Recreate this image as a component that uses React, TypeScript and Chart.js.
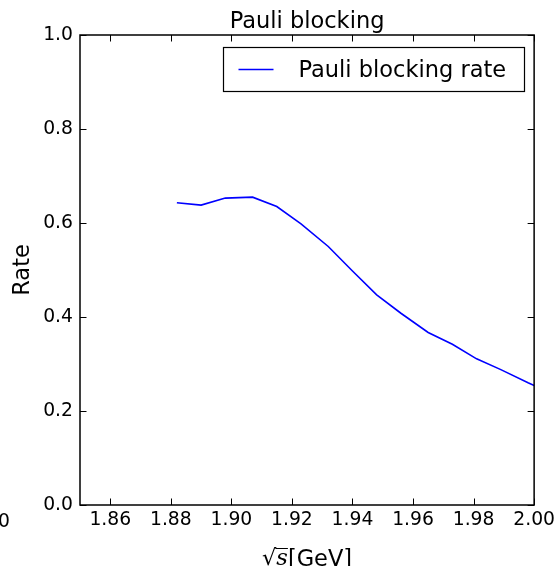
import React, { useEffect, useRef } from "react";
import { Chart, registerables } from "chart.js";

Chart.register(...registerables);

const X_VALUES = [1.882, 1.890, 1.898, 1.907, 1.915, 1.923, 1.932, 1.940, 1.948, 1.956, 1.965, 1.973, 1.981, 1.989, 1.998, 2.006];
const RATE_VALUES = [0.643, 0.638, 0.653, 0.655, 0.635, 0.598, 0.550, 0.498, 0.447, 0.408, 0.367, 0.342, 0.311, 0.288, 0.260, 0.238];
const X_TICKS = [1.86, 1.88, 1.90, 1.92, 1.94, 1.96, 1.98, 2.00];
const Y_TICKS = [0.0, 0.2, 0.4, 0.6, 0.8, 1.0];
const TITLE = "Pauli blocking";
const SERIES_LABEL = "Pauli blocking rate";
const Y_LABEL = "Rate";
const X_LABEL_UNIT = "[GeV]";
const STRAY_LABEL = "0";

const FONT = "'DejaVu Sans', sans-serif";
const TICK_SIZE = 18.75;
const LARGE_SIZE = 22.5;
const LINE_COLOR = "#0000ff";

const decorPlugin = {
  id: "decor",
  afterDraw(chart: any) {
    const { ctx, chartArea } = chart;
    const xs = chart.scales.x;
    const ys = chart.scales.y;
    const { left, right, top, bottom } = chartArea;
    ctx.save();
    // frame
    ctx.strokeStyle = "#000";
    ctx.lineWidth = 1.5;
    ctx.strokeRect(left, top, right - left, bottom - top);
    // inward ticks
    ctx.lineWidth = 1;
    ctx.beginPath();
    const tl = 6.5;
    X_TICKS.forEach((v) => {
      const px = Math.round(xs.getPixelForValue(v)) + 0.5;
      ctx.moveTo(px, bottom);
      ctx.lineTo(px, bottom - tl);
      ctx.moveTo(px, top);
      ctx.lineTo(px, top + tl);
    });
    Y_TICKS.forEach((v) => {
      const py = Math.round(ys.getPixelForValue(v)) + 0.5;
      ctx.moveTo(left, py);
      ctx.lineTo(left + tl, py);
      ctx.moveTo(right, py);
      ctx.lineTo(right - tl, py);
    });
    ctx.stroke();

    // title
    ctx.fillStyle = "#000";
    ctx.font = `${LARGE_SIZE}px ${FONT}`;
    ctx.textAlign = "center";
    ctx.textBaseline = "alphabetic";
    ctx.fillText(TITLE, (left + right) / 2, top - 7);

    // legend
    const lx = 223.5, ly = 47.5, lw = 301, lh = 44;
    ctx.fillStyle = "#fff";
    ctx.fillRect(lx, ly, lw, lh);
    ctx.strokeStyle = "#000";
    ctx.lineWidth = 1.2;
    ctx.strokeRect(lx, ly, lw, lh);
    ctx.strokeStyle = LINE_COLOR;
    ctx.lineWidth = 1.6;
    ctx.beginPath();
    ctx.moveTo(lx + 15, ly + 22);
    ctx.lineTo(lx + 50, ly + 22);
    ctx.stroke();
    ctx.fillStyle = "#000";
    ctx.textAlign = "left";
    ctx.font = `${LARGE_SIZE}px ${FONT}`;
    ctx.fillText(SERIES_LABEL, lx + 75, ly + 29);

    // x label: sqrt(s) [GeV]
    const cx = (left + right) / 2;
    const base = 566;
    ctx.font = `${LARGE_SIZE}px ${FONT}`;
    const unitW = ctx.measureText(X_LABEL_UNIT).width;
    ctx.font = `italic ${LARGE_SIZE}px 'DejaVu Serif', serif`;
    const sW = ctx.measureText("s").width;
    ctx.font = `${LARGE_SIZE}px 'DejaVu Serif', serif`;
    const rW = ctx.measureText("\u221A").width;
    const total = rW + sW + unitW;
    let x0 = cx - total / 2;
    ctx.fillText("\u221A", x0, base - 1);
    ctx.font = `italic ${LARGE_SIZE}px 'DejaVu Serif', serif`;
    ctx.fillText("s", x0 + rW, base - 1);
    ctx.lineWidth = 1;
    ctx.strokeStyle = "#000";
    ctx.beginPath();
    ctx.moveTo(x0 + rW - 1, base - 17.5);
    ctx.lineTo(x0 + rW + sW, base - 17.5);
    ctx.stroke();
    ctx.font = `${LARGE_SIZE}px ${FONT}`;
    ctx.fillText(X_LABEL_UNIT, x0 + rW + sW, base);

    // stray clipped label at far left
    ctx.font = `${TICK_SIZE}px ${FONT}`;
    ctx.textAlign = "right";
    ctx.fillText(STRAY_LABEL, 10, 527);
    ctx.restore();
  },
};

export default function App() {
  const ref = useRef<HTMLCanvasElement | null>(null);
  useEffect(() => {
    if (!ref.current) return;
    const chart = new Chart(ref.current, {
      type: "line",
      data: {
        datasets: [
          {
            label: SERIES_LABEL,
            data: X_VALUES.map((x, i) => ({ x, y: RATE_VALUES[i] })),
            borderColor: LINE_COLOR,
            backgroundColor: LINE_COLOR,
            borderWidth: 1.6,
            pointRadius: 0,
            tension: 0,
            fill: false,
          },
        ],
      },
      options: {
        animation: false,
        responsive: false,
        devicePixelRatio: 1,
        layout: { padding: { top: 35, right: 23, left: 0, bottom: 0 } },
        plugins: {
          legend: { display: false },
          title: { display: false },
          tooltip: { enabled: false },
        },
        scales: {
          x: {
            type: "linear",
            min: 1.85,
            max: 2.0,
            afterFit: (s: any) => {
              s.height = 61;
            },
            afterBuildTicks: (s: any) => {
              s.ticks = X_TICKS.map((v) => ({ value: v }));
            },
            grid: { display: false, drawTicks: false },
            border: { display: false },
            ticks: {
              autoSkip: false,
              maxRotation: 0,
              padding: 4,
              color: "#000",
              font: { family: "DejaVu Sans", size: TICK_SIZE },
              callback: (v: any) => Number(v).toFixed(2),
            },
          },
          y: {
            type: "linear",
            min: 0,
            max: 1,
            afterFit: (s: any) => {
              s.width = 80;
            },
            afterBuildTicks: (s: any) => {
              s.ticks = Y_TICKS.map((v) => ({ value: v }));
            },
            grid: { display: false, drawTicks: false },
            border: { display: false },
            title: {
              display: true,
              text: Y_LABEL,
              color: "#000",
              font: { family: "DejaVu Sans", size: LARGE_SIZE },
              padding: { top: 9.5, bottom: 0 },
            },
            ticks: {
              autoSkip: false,
              padding: 7,
              color: "#000",
              font: { family: "DejaVu Sans", size: TICK_SIZE },
              callback: (v: any) => Number(v).toFixed(1),
            },
          },
        },
      },
      plugins: [decorPlugin],
    });
    return () => chart.destroy();
  }, []);
  return (
    <div style={{ position: "absolute", left: 0, top: 0, width: 559, height: 566, background: "#fff" }}>
      <canvas ref={ref} width={559} height={566} style={{ display: "block" }} />
    </div>
  );
}
